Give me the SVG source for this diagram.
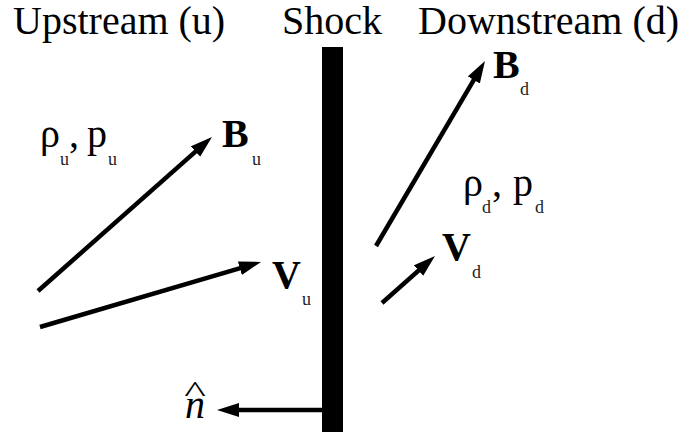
<svg xmlns="http://www.w3.org/2000/svg" width="686" height="436" viewBox="0 0 686 436">
  <style>
    text { fill: #000; }
    .title { font-size: 40px; }
    .sym { font-size: 40px; }
    .vec { font-size: 40px; font-weight: bold; }
    .sub { font-size: 18px; fill: #222; }
    .arrow { stroke: #000; stroke-width: 4.5; fill: none; marker-end: url(#head); }
  </style>
  <defs>
    <marker id="head" markerUnits="userSpaceOnUse" markerWidth="24" markerHeight="16" refX="12" refY="7" orient="auto">
      <path d="M0,0 L22,7 L0,14 z" fill="#000"/>
    </marker>
  </defs>
  <rect width="686" height="436" fill="#fff"/>

  <g font-family="'Liberation Serif', 'DejaVu Serif', serif">
  <g id="title-upstream"><text class="title" x="13" y="34">Upstream (u)</text></g>
  <g id="title-shock"><text class="title" x="282" y="34">Shock</text></g>
  <g id="title-downstream"><text class="title" x="418" y="34">Downstream (d)</text></g>

  <g id="shock"><rect x="322" y="47" width="21" height="385" fill="#000"/></g>

  <g id="connectors">
    <line class="arrow" x1="38" y1="291" x2="204.5" y2="143.6"/>
    <line class="arrow" x1="40" y1="327" x2="251.4" y2="264.8"/>
    <line class="arrow" x1="376" y1="246" x2="479.9" y2="69.6"/>
    <line class="arrow" x1="382" y1="303" x2="427.5" y2="262.6"/>
    <line class="arrow" x1="322" y1="410" x2="227" y2="410"/>
  </g>

  <g id="label-rho-p-u">
    <text class="sym" x="40" y="147">ρ</text>
    <text class="sub" x="60" y="165">u</text>
    <text class="sym" x="69" y="147">,</text>
    <text class="sym" x="87" y="147">p</text>
    <text class="sub" x="108" y="165">u</text>
  </g>
  <g id="label-B-u">
    <text class="vec" x="222" y="147">B</text>
    <text class="sub" x="252" y="165">u</text>
  </g>
  <g id="label-V-u">
    <text class="vec" x="272" y="288">V</text>
    <text class="sub" x="302" y="305">u</text>
  </g>
  <g id="label-B-d">
    <text class="vec" x="493" y="78">B</text>
    <text class="sub" x="520" y="95">d</text>
  </g>
  <g id="label-rho-p-d">
    <text class="sym" x="463" y="196">ρ</text>
    <text class="sub" x="482" y="213">d</text>
    <text class="sym" x="492" y="196">,</text>
    <text class="sym" x="513" y="196">p</text>
    <text class="sub" x="535" y="213">d</text>
  </g>
  <g id="label-V-d">
    <text class="vec" x="442" y="260">V</text>
    <text class="sub" x="472" y="278">d</text>
  </g>
  <g id="label-n-hat">
    <text class="sym" transform="translate(195,402) scale(1.15,0.72)" text-anchor="middle">^</text>
    <text class="sym" x="185" y="418" font-style="italic">n</text>
  </g>
  </g>
</svg>
